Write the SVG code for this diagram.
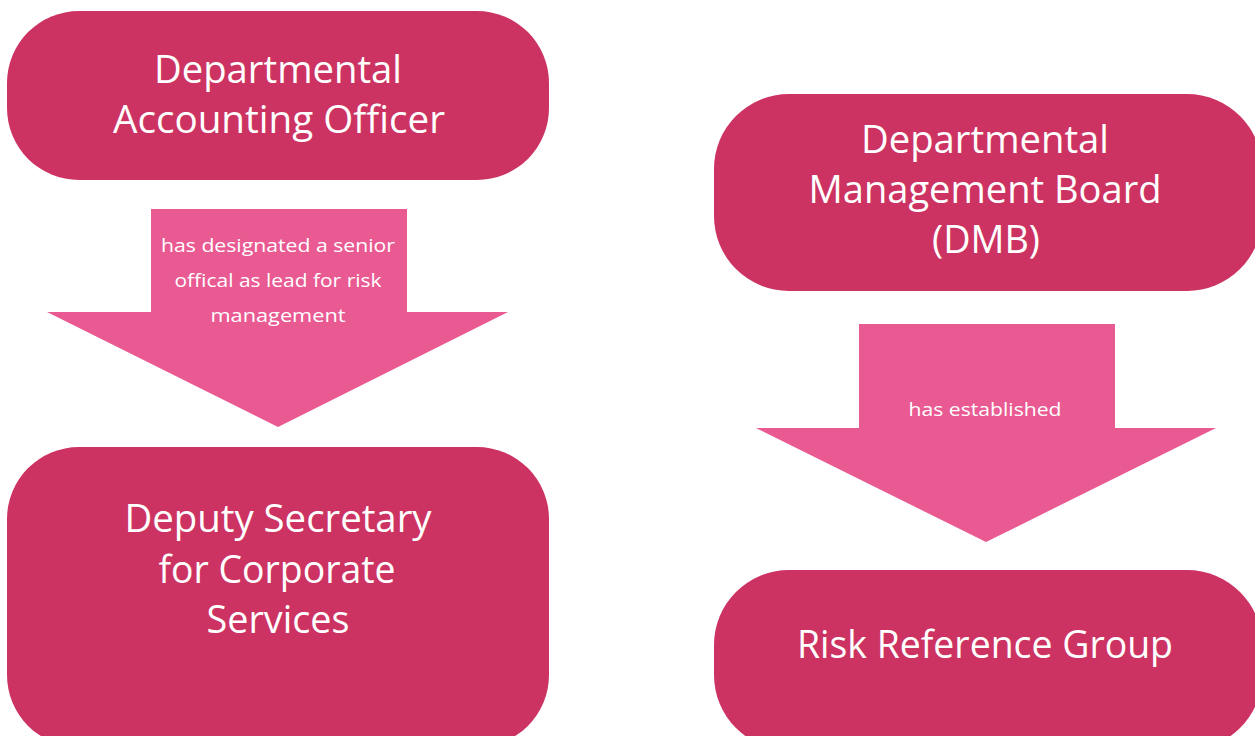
<svg xmlns="http://www.w3.org/2000/svg" width="1255" height="736" viewBox="0 0 1255 736">
<style>
.node{fill:#CD3362}
.arrow{fill:#E95A93}
.nt{font-family:"Open Sans","Liberation Sans",sans-serif;font-size:38px;fill:#FFFFFF;text-anchor:middle}
.at{font-family:"Open Sans","Liberation Sans",sans-serif;font-size:19px;fill:#FFFFFF;text-anchor:middle}
</style>
<rect width="1255" height="736" fill="#FFFFFF"/>
<g id="connectors">
<g id="arrow1">
<polygon class="arrow" points="151,209 407,209 407,312 508,312 278,427 47,312 151,312"/>
<text class="at" x="278" y="252" textLength="234" lengthAdjust="spacingAndGlyphs">has designated a senior</text>
<text class="at" x="278" y="287" textLength="207" lengthAdjust="spacingAndGlyphs">offical as lead for risk</text>
<text class="at" x="278" y="322" textLength="135" lengthAdjust="spacingAndGlyphs">management</text>
</g>
<g id="arrow2">
<polygon class="arrow" points="859,324 1115,324 1115,428 1216,428 986,542 756,428 859,428"/>
<text class="at" x="985" y="416" textLength="153" lengthAdjust="spacingAndGlyphs">has established</text>
</g>
</g>
<g id="node1">
<rect class="node" x="7" y="11" width="542" height="169" rx="72" ry="72"/>
<text class="nt" x="278" y="83" textLength="248" lengthAdjust="spacingAndGlyphs">Departmental</text>
<text class="nt" x="279" y="133" textLength="332" lengthAdjust="spacingAndGlyphs">Accounting Officer</text>
</g>
<g id="node2">
<rect class="node" x="714" y="94" width="548" height="197" rx="75" ry="75"/>
<text class="nt" x="985" y="153" textLength="248" lengthAdjust="spacingAndGlyphs">Departmental</text>
<text class="nt" x="985" y="203" textLength="353" lengthAdjust="spacingAndGlyphs">Management Board</text>
<text class="nt" x="986" y="253" textLength="108" lengthAdjust="spacingAndGlyphs">(DMB)</text>
</g>
<g id="node3">
<rect class="node" x="7" y="447" width="542" height="300" rx="72" ry="72"/>
<text class="nt" x="278" y="532" textLength="307" lengthAdjust="spacingAndGlyphs">Deputy Secretary</text>
<text class="nt" x="277" y="583" textLength="237" lengthAdjust="spacingAndGlyphs">for Corporate</text>
<text class="nt" x="278" y="633" textLength="143" lengthAdjust="spacingAndGlyphs">Services</text>
</g>
<g id="node4">
<rect class="node" x="714" y="570" width="548" height="180" rx="75" ry="75"/>
<text class="nt" x="985" y="658" textLength="376" lengthAdjust="spacingAndGlyphs">Risk Reference Group</text>
</g>
</svg>
